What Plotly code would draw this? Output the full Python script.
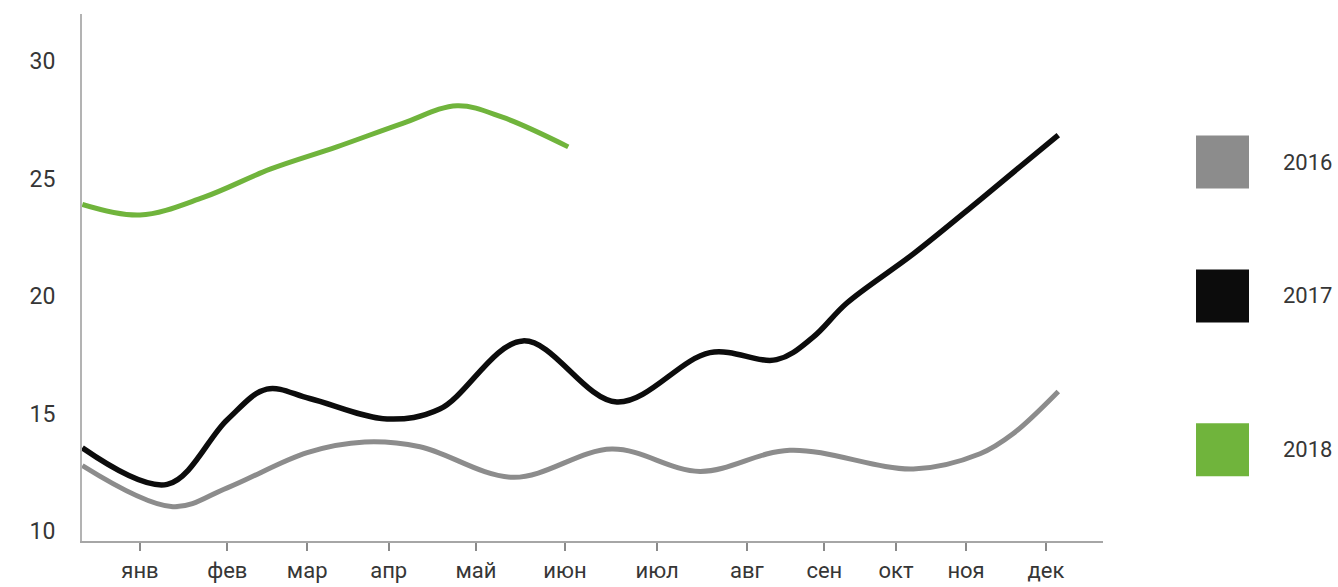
import plotly.graph_objects as go

# Month labels and where their ticks sit on the time axis
months = ["янв", "фев", "мар", "апр", "май", "июн",
          "июл", "авг", "сен", "окт", "ноя", "дек"]
month_ticks = [1.00, 2.06, 3.03, 4.02, 5.08, 6.16, 7.28, 8.37, 9.31, 10.18, 11.03, 12.00]

y_ticks = [10, 15, 20, 25, 30]

years = ["2016", "2017", "2018"]

x_2016 = [0.30, 1.40, 2.06, 3.03, 3.73, 4.40, 5.53, 6.73, 7.80, 8.89, 10.39, 11.20, 11.60, 12.15]
y_2016 = [12.8, 11.05, 11.85, 13.35, 13.8, 13.6, 12.3, 13.5, 12.55, 13.45, 12.65, 13.3, 14.15, 15.95]

x_2017 = [0.30, 1.33, 2.06, 2.54, 3.06, 4.00, 4.64, 5.65, 6.79, 7.92, 8.73, 9.17, 9.58, 10.39, 11.20, 12.15]
y_2017 = [13.55, 12.0, 14.75, 16.05, 15.65, 14.78, 15.2, 18.1, 15.5, 17.6, 17.3, 18.25, 19.7, 21.8, 24.1, 26.85]

x_2018 = [0.30, 1.00, 1.77, 2.58, 3.39, 4.19, 4.85, 5.41, 6.20]
y_2018 = [23.9, 23.45, 24.2, 25.4, 26.35, 27.35, 28.1, 27.6, 26.35]

colors = {"2016": "#8c8c8c", "2017": "#0c0c0c", "2018": "#70b43c"}
widths = {"2016": 5, "2017": 5.5, "2018": 5}
series = {"2016": (x_2016, y_2016), "2017": (x_2017, y_2017), "2018": (x_2018, y_2018)}

FONT = "Roboto, 'DejaVu Sans', sans-serif"
TEXT = "#363636"

fig = go.Figure()
for yr in years:
    xs, ys = series[yr]
    fig.add_trace(go.Scatter(
        x=xs, y=ys, mode="lines", name=yr,
        line=dict(color=colors[yr], width=widths[yr], shape="spline", smoothing=1.0),
        hoverinfo="skip",
    ))

# Legend: coloured squares with year labels on the right
legend_y = {"2016": 0.719, "2017": 0.465, "2018": 0.173}
sq_half = 0.0503
for yr in years:
    cy = legend_y[yr]
    fig.add_shape(type="rect", xref="paper", yref="paper",
                  x0=1.0911, x1=1.1430, y0=cy - sq_half, y1=cy + sq_half,
                  fillcolor=colors[yr], line=dict(width=0))
    fig.add_annotation(x=1.1745, y=cy, xref="paper", yref="paper",
                       text=yr, showarrow=False, xanchor="left", yanchor="middle",
                       font=dict(family=FONT, size=22, color=TEXT))

fig.update_layout(
    width=1338, height=587,
    margin=dict(l=82, r=235, t=14, b=46),
    plot_bgcolor="white", paper_bgcolor="white",
    showlegend=False,
    font=dict(family=FONT, color=TEXT),
    xaxis=dict(
        range=[0.296, 12.693],
        tickvals=month_ticks, ticktext=months,
        showline=True, linecolor="#a6a6a6", linewidth=2,
        ticks="outside", ticklen=8, tickwidth=1.5, tickcolor="#8a8a8a",
        showgrid=False, zeroline=False, automargin=False,
        tickfont=dict(family=FONT, size=22, color=TEXT),
        ticklabelstandoff=1,
    ),
    xaxis2=dict(
        overlaying="x", matches="x", anchor="y",
        tickvals=month_ticks,
        ticks="inside", ticklen=8, tickwidth=1.5, tickcolor="#8a8a8a",
        showticklabels=False, showline=False, showgrid=False, zeroline=False,
        automargin=False,
    ),
    yaxis=dict(
        range=[9.59, 32.0],
        tickvals=y_ticks,
        showline=True, linecolor="#b3b3b3", linewidth=2,
        ticks="", showgrid=False, zeroline=False, automargin=False,
        tickfont=dict(family=FONT, size=23, color=TEXT),
        ticklabelstandoff=20,
    ),
)

fig.write_html("out.html")
